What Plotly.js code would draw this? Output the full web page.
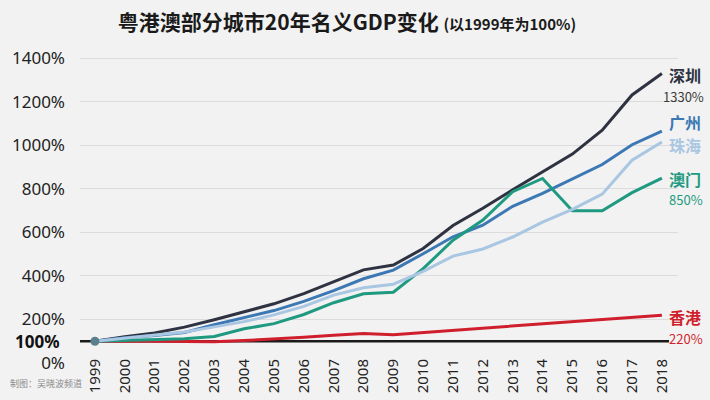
<!DOCTYPE html>
<html>
<head>
<meta charset="utf-8">
<script src="https://cdn.plot.ly/plotly-3.0.1.min.js"></script>
<style>
  html, body { margin: 0; padding: 0; background: #f2f2f2; }
  #chart { width: 710px; height: 400px; }
</style>
</head>
<body>
<div id="chart"></div>
<script>
// ---- data (% of 1999 level) ----
const years = [1999,2000,2001,2002,2003,2004,2005,2006,2007,2008,2009,2010,2011,2012,2013,2014,2015,2016,2017,2018];
const yearLabels = years.map(String);
const shenzhen  = [100,121,138,165,199,236,272,319,373,428,450,526,632,711,796,878,960,1070,1232,1330];
const guangzhou = [100,116,126,140,176,208,241,283,333,387,427,502,580,633,720,780,845,912,1003,1066];
const zhuhai    = [100,114,126,142,166,190,221,260,312,346,362,421,491,524,579,647,706,776,932,1016];
const macau     = [100,104,106,112,122,157,181,223,277,318,325,434,564,657,787,848,700,700,783,850];
const hongkong  = [100,101,100,99,98,103,110,118,128,135,130,140,150,158,168,178,188,198,208,220];
const yTickVals = [0,200,400,600,800,1000,1200,1400];
const yTickText = yTickVals.map(v => v + '%');
const cityNames = {sz:'深圳', gz:'广州', zh:'珠海', mo:'澳门', hk:'香港'};

const C = {sz:'#2e3241', gz:'#3b78b4', zh:'#a9c6e2', mo:'#1f9a80', hk:'#d01f2c'};
const FONT = '"Noto Sans", "Noto Sans CJK SC", sans-serif';
const CJK = '"Noto Sans CJK SC", "Noto Sans", sans-serif';

function line(y, color, name) {
  return {x: years, y: y, type: 'scatter', mode: 'lines', name: name,
          line: {color: color, width: 3}, hoverinfo: 'skip'};
}
const traces = [
  line(hongkong, C.hk, cityNames.hk),
  line(shenzhen, C.sz, cityNames.sz),
  line(guangzhou, C.gz, cityNames.gz),
  line(macau, C.mo, cityNames.mo),
  line(zhuhai, C.zh, cityNames.zh),
  {x: [years[0]], y: [shenzhen[0]], type: 'scatter', mode: 'markers',
   marker: {color: '#5b7f8d', size: 9}, hoverinfo: 'skip'}
];

const last = a => a[a.length - 1];
const lastYear = last(years);
function lab(text, y, color, size, yshift, bold) {
  return {xref: 'x', yref: 'y', x: lastYear, y: y, xanchor: 'left', yanchor: 'middle',
          xshift: 6, yshift: yshift, showarrow: false, borderpad: 0,
          text: bold ? '<b>' + text + '</b>' : text,
          font: {family: CJK, size: size, color: color}};
}

const annotations = [
  lab(cityNames.sz, last(shenzhen), C.sz, 16, -1, true),
  {...lab(last(shenzhen) + '%', last(shenzhen), '#3a3a3a', 13, -23, false), xshift: 0},
  lab(cityNames.gz, last(guangzhou), C.gz, 16, 9, true),
  lab(cityNames.zh, last(zhuhai), C.zh, 16, -3, true),
  lab(cityNames.mo, last(macau), C.mo, 16, -1, true),
  lab(last(macau) + '%', last(macau), C.mo, 13, -21, false),
  lab(cityNames.hk, last(hongkong), C.hk, 16, -2, true),
  lab(last(hongkong) + '%', last(hongkong), C.hk, 13, -23, false),
  {xref: 'paper', yref: 'y', x: 0, y: 100, xanchor: 'right', yanchor: 'middle',
   xshift: -18, showarrow: false, text: '<b>100%</b>',
   font: {family: FONT, size: 17, color: '#111'}},
  {xref: 'paper', yref: 'paper', x: -0.1204, y: -0.065, xanchor: 'left', yanchor: 'middle',
   showarrow: false, text: '制图：吴晓波频道',
   font: {family: CJK, size: 9, color: '#8a8a8a'}}
];

const layout = {
  width: 710, height: 400,
  margin: {l: 80, r: 32, t: 54, b: 37},
  paper_bgcolor: '#f2f2f2', plot_bgcolor: '#f2f2f2',
  showlegend: false,
  title: {
    text: '<b>粤港澳部分城市20年名义GDP变化</b> <span style="font-size:15px"><b>(以1999年为100%)</b></span>',
    font: {family: CJK, size: 21, color: '#1a1a1a'},
    xref: 'container', yref: 'container', x: 0.166, xanchor: 'left',
    y: 0.943, yanchor: 'middle'
  },
  xaxis: {
    range: [1998.5, 2018.54], tickvals: years, ticktext: yearLabels,
    tickangle: -90, showgrid: false, zeroline: false, showline: false,
    ticks: '', ticklabelstandoff: -8,
    tickfont: {family: FONT, size: 15, color: '#222'}
  },
  yaxis: {
    range: [0, 1420], tickvals: yTickVals, ticktext: yTickText,
    showgrid: true, gridcolor: '#dcdcdc', gridwidth: 1,
    zeroline: false, showline: false, ticks: '', ticklabelstandoff: 14,
    tickfont: {family: FONT, size: 17, color: '#222'}
  },
  shapes: [
    {type: 'line', xref: 'paper', yref: 'y', x0: 0, x1: 0.985, y0: 100, y1: 100,
     line: {color: '#1a1a1a', width: 2.5}, layer: 'below'}
  ],
  annotations: annotations
};

Plotly.newPlot('chart', traces, layout, {displayModeBar: false, staticPlot: true});
</script>
</body>
</html>
